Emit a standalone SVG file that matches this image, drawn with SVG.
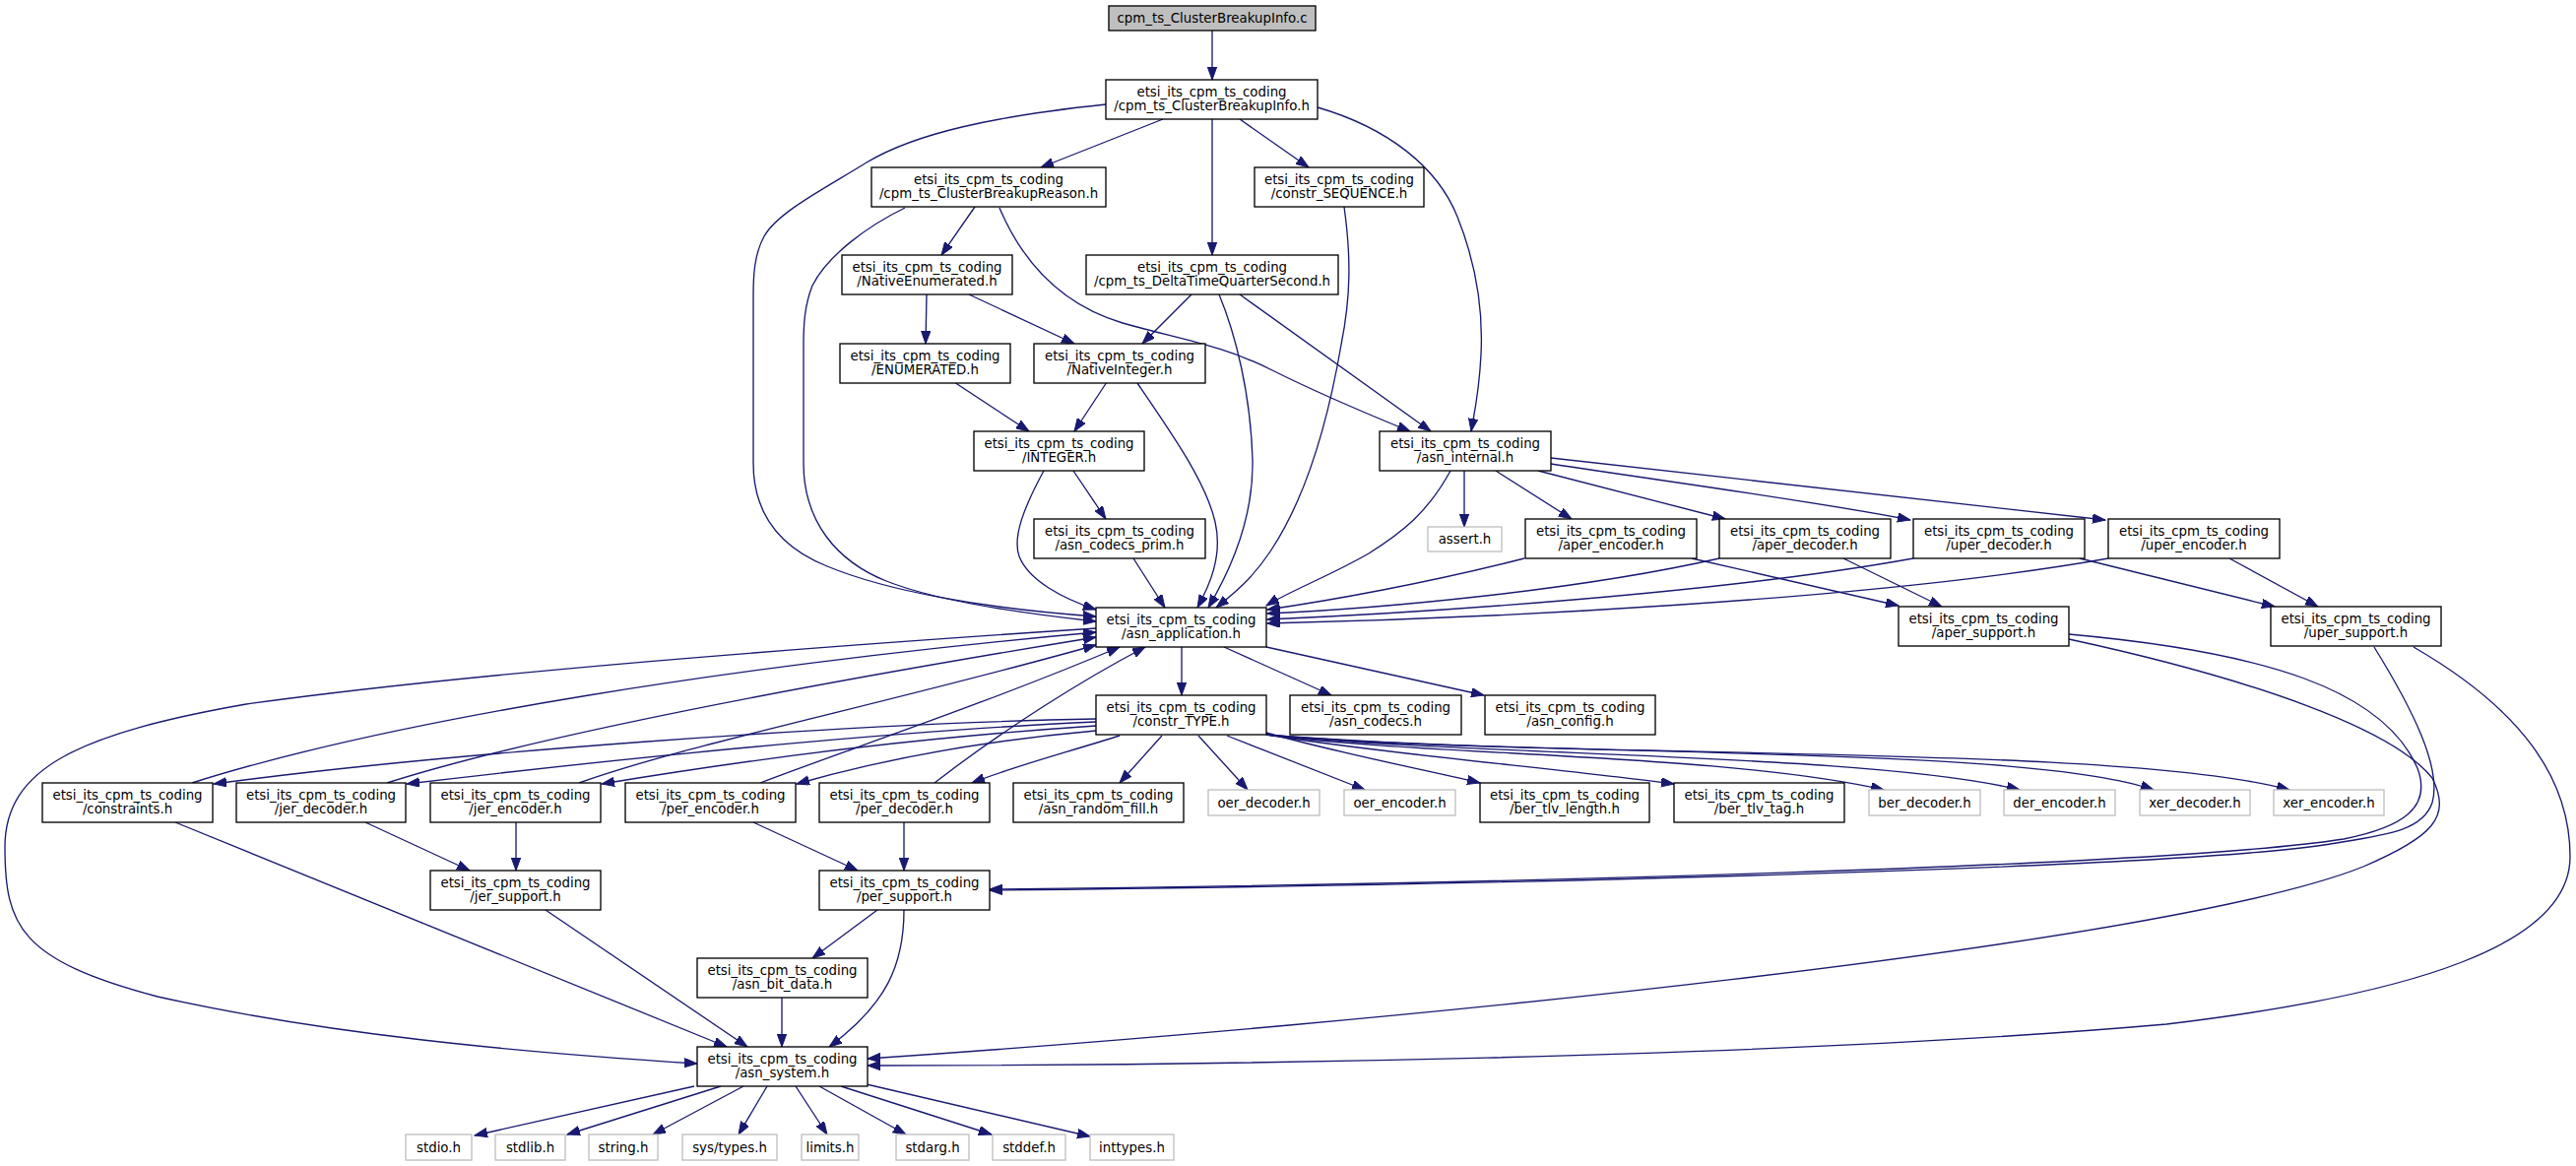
<svg xmlns="http://www.w3.org/2000/svg" width="2616" height="1184" viewBox="0 0 2616 1184">
<style>
.node rect{fill:#fff;stroke:#000;stroke-width:1.33}
.ext rect{fill:#fff;stroke:#bfbfbf;stroke-width:1.33}
.root rect{fill:#bfbfbf;stroke:#000;stroke-width:1.33}
text{font-family:"DejaVu Sans","Liberation Sans",sans-serif;font-size:13.33px;text-anchor:middle;fill:#000}
#edges path{fill:none;stroke:#191970;stroke-width:1.33;marker-end:url(#ah)}
</style>
<defs>
<marker id="ah" markerUnits="userSpaceOnUse" markerWidth="14" markerHeight="10" refX="13" refY="4.7" orient="auto">
<path d="M0,0 L13,4.7 L0,9.4 z" fill="#191970" stroke="#191970" stroke-width="1"/>
</marker>
</defs>
<rect x="0" y="0" width="2616" height="1184" fill="#fff"/>
<g id="edges">
<path d="M1231,31 L1231,81"/>
<path d="M1181,121 L1057,170"/>
<path d="M1231,121 L1231,259"/>
<path d="M1259,121 L1329,170"/>
<path d="M1123,106 C1010,118 930,135 880,165 C840,190 790,215 776,240 C766,258 765,280 765,300 L765,470 C765,520 790,555 840,575 C900,600 1000,618 1113,626"/>
<path d="M1338,109 C1410,130 1460,170 1480,220 C1500,270 1506,320 1504,360 C1502,400 1497,420 1494,438"/>
<path d="M990,210 L956,259"/>
<path d="M919,211 C880,230 840,260 825,290 C817,310 816,330 816,350 L816,470 C816,530 850,570 900,590 C950,610 1030,622 1113,631"/>
<path d="M1015,211 C1040,270 1080,310 1140,328 C1200,345 1240,350 1290,375 C1340,400 1400,425 1432,438"/>
<path d="M1365,210 C1372,260 1372,300 1362,350 C1350,420 1330,500 1290,560 C1270,590 1250,605 1235,617"/>
<path d="M941,299 L940,349"/>
<path d="M984,299 L1091,349"/>
<path d="M1210,299 L1160,349"/>
<path d="M1238,299 C1255,340 1270,400 1272,467 C1273,520 1255,570 1227,617"/>
<path d="M1259,299 L1453,438"/>
<path d="M969,388 L1045,438"/>
<path d="M1124,388 L1091,438"/>
<path d="M1155,389 C1190,440 1225,490 1234,530 C1242,565 1228,595 1216,617"/>
<path d="M1090,478 L1123,527"/>
<path d="M1060,478 C1040,515 1028,545 1035,565 C1045,590 1080,608 1113,619"/>
<path d="M1151,567 L1183,617"/>
<path d="M1473,478 C1450,520 1425,540 1390,562 C1350,585 1310,600 1286,615"/>
<path d="M1487,478 L1487,535"/>
<path d="M1519,478 L1596,527"/>
<path d="M1562,478 L1752,527"/>
<path d="M1575,471 C1700,490 1850,510 1940,528"/>
<path d="M1575,465 C1700,478 1900,500 2138,528"/>
<path d="M1548,567 C1450,592 1350,610 1287,619"/>
<path d="M1746,567 C1600,600 1400,618 1287,623"/>
<path d="M1943,567 C1750,602 1450,622 1287,629"/>
<path d="M2141,567 C1900,610 1500,628 1287,633"/>
<path d="M1718,567 L1928,615"/>
<path d="M1872,567 L1972,616"/>
<path d="M2112,567 L2310,616"/>
<path d="M2264,567 L2354,616"/>
<path d="M1200,657 L1200,706"/>
<path d="M1243,657 L1352,706"/>
<path d="M1286,657 L1507,706"/>
<path d="M1113,638 C900,652 500,680 250,715 C80,745 5,780 5,860 C5,940 20,975 160,1012 C330,1050 520,1068 708,1080"/>
<path d="M1113,730 C850,735 450,765 217,796"/>
<path d="M1113,733 C950,740 700,762 413,796"/>
<path d="M1113,737 C950,748 800,765 611,796"/>
<path d="M1113,742 C1000,752 900,770 809,796"/>
<path d="M1137,747 C1080,765 1030,778 987,795"/>
<path d="M1180,747 L1137,795"/>
<path d="M1217,747 L1267,802"/>
<path d="M1246,747 L1386,802"/>
<path d="M1286,744 C1360,765 1440,780 1503,795"/>
<path d="M1286,746 C1400,765 1580,780 1700,796"/>
<path d="M1286,746 C1450,768 1750,765 1913,802"/>
<path d="M1286,746 C1500,768 1900,765 2051,802"/>
<path d="M1286,746 C1550,770 2050,755 2187,802"/>
<path d="M1286,746 C1600,772 2150,755 2325,802"/>
<path d="M195,795 C400,730 750,675 1113,642"/>
<path d="M393,795 C550,745 850,690 1113,647"/>
<path d="M588,795 C700,755 900,715 1113,655"/>
<path d="M772,795 C850,765 1000,715 1137,657"/>
<path d="M949,795 C1020,740 1100,690 1163,657"/>
<path d="M178,835 L738,1063"/>
<path d="M371,835 L477,884"/>
<path d="M524,835 L524,884"/>
<path d="M765,835 L871,884"/>
<path d="M918,835 L918,884"/>
<path d="M554,924 L759,1063"/>
<path d="M891,924 L825,973"/>
<path d="M918,924 C918,980 900,1020 842,1063"/>
<path d="M794,1013 L794,1063"/>
<path d="M705,1103 L482,1153"/>
<path d="M732,1103 L576,1152"/>
<path d="M755,1103 L663,1152"/>
<path d="M779,1103 L750,1152"/>
<path d="M808,1103 L840,1152"/>
<path d="M832,1103 L920,1152"/>
<path d="M854,1103 L1007,1152"/>
<path d="M880,1101 L1107,1154"/>
<path d="M2101,644 C2300,662 2420,700 2455,780 C2470,820 2440,840 2380,852 C2200,880 1500,898 1005,903"/>
<path d="M2411,657 C2450,720 2480,780 2470,815 C2460,845 2420,848 2360,858 C2200,882 1500,899 1005,904"/>
<path d="M2101,649 C2290,690 2430,740 2470,790 C2490,830 2470,850 2400,880 C2200,960 1400,1040 881,1075"/>
<path d="M2451,657 C2560,720 2610,790 2610,870 C2610,960 2450,1010 2200,1040 C1800,1075 1200,1082 881,1082"/>
</g>
<g id="n-cfile" class="root"><rect x="1126" y="6" width="210" height="25"/><text x="1231" y="23">cpm_ts_ClusterBreakupInfo.c</text></g>
<g id="n-info" class="node"><rect x="1123" y="81" width="215" height="40"/><text x="1230.5" y="97.5">etsi_its_cpm_ts_coding</text><text x="1230.5" y="112">/cpm_ts_ClusterBreakupInfo.h</text></g>
<g id="n-reason" class="node"><rect x="885" y="170" width="238" height="40"/><text x="1004" y="186.5">etsi_its_cpm_ts_coding</text><text x="1004" y="201">/cpm_ts_ClusterBreakupReason.h</text></g>
<g id="n-seq" class="node"><rect x="1274" y="170" width="172" height="40"/><text x="1360" y="186.5">etsi_its_cpm_ts_coding</text><text x="1360" y="201">/constr_SEQUENCE.h</text></g>
<g id="n-natenum" class="node"><rect x="855" y="259" width="173" height="40"/><text x="941.5" y="275.5">etsi_its_cpm_ts_coding</text><text x="941.5" y="290">/NativeEnumerated.h</text></g>
<g id="n-delta" class="node"><rect x="1103" y="259" width="256" height="40"/><text x="1231" y="275.5">etsi_its_cpm_ts_coding</text><text x="1231" y="290">/cpm_ts_DeltaTimeQuarterSecond.h</text></g>
<g id="n-enum" class="node"><rect x="853" y="349" width="173" height="40"/><text x="939.5" y="365.5">etsi_its_cpm_ts_coding</text><text x="939.5" y="380">/ENUMERATED.h</text></g>
<g id="n-natint" class="node"><rect x="1050" y="349" width="174" height="40"/><text x="1137" y="365.5">etsi_its_cpm_ts_coding</text><text x="1137" y="380">/NativeInteger.h</text></g>
<g id="n-integer" class="node"><rect x="989" y="438" width="173" height="40"/><text x="1075.5" y="454.5">etsi_its_cpm_ts_coding</text><text x="1075.5" y="469">/INTEGER.h</text></g>
<g id="n-internal" class="node"><rect x="1401" y="438" width="174" height="40"/><text x="1488" y="454.5">etsi_its_cpm_ts_coding</text><text x="1488" y="469">/asn_internal.h</text></g>
<g id="n-prim" class="node"><rect x="1050" y="527" width="174" height="40"/><text x="1137" y="543.5">etsi_its_cpm_ts_coding</text><text x="1137" y="558">/asn_codecs_prim.h</text></g>
<g id="n-assert" class="ext"><rect x="1450" y="535" width="75" height="25"/><text x="1487.5" y="552">assert.h</text></g>
<g id="n-aperenc" class="node"><rect x="1549" y="527" width="174" height="40"/><text x="1636" y="543.5">etsi_its_cpm_ts_coding</text><text x="1636" y="558">/aper_encoder.h</text></g>
<g id="n-aperdec" class="node"><rect x="1746" y="527" width="174" height="40"/><text x="1833" y="543.5">etsi_its_cpm_ts_coding</text><text x="1833" y="558">/aper_decoder.h</text></g>
<g id="n-uperdec" class="node"><rect x="1943" y="527" width="174" height="40"/><text x="2030" y="543.5">etsi_its_cpm_ts_coding</text><text x="2030" y="558">/uper_decoder.h</text></g>
<g id="n-uperenc" class="node"><rect x="2141" y="527" width="174" height="40"/><text x="2228" y="543.5">etsi_its_cpm_ts_coding</text><text x="2228" y="558">/uper_encoder.h</text></g>
<g id="n-app" class="node"><rect x="1113" y="617" width="173" height="40"/><text x="1199.5" y="633.5">etsi_its_cpm_ts_coding</text><text x="1199.5" y="648">/asn_application.h</text></g>
<g id="n-apersup" class="node"><rect x="1928" y="616" width="173" height="40"/><text x="2014.5" y="632.5">etsi_its_cpm_ts_coding</text><text x="2014.5" y="647">/aper_support.h</text></g>
<g id="n-upersup" class="node"><rect x="2306" y="616" width="173" height="40"/><text x="2392.5" y="632.5">etsi_its_cpm_ts_coding</text><text x="2392.5" y="647">/uper_support.h</text></g>
<g id="n-type" class="node"><rect x="1113" y="706" width="173" height="40"/><text x="1199.5" y="722.5">etsi_its_cpm_ts_coding</text><text x="1199.5" y="737">/constr_TYPE.h</text></g>
<g id="n-codecs" class="node"><rect x="1310" y="706" width="174" height="40"/><text x="1397" y="722.5">etsi_its_cpm_ts_coding</text><text x="1397" y="737">/asn_codecs.h</text></g>
<g id="n-config" class="node"><rect x="1508" y="706" width="173" height="40"/><text x="1594.5" y="722.5">etsi_its_cpm_ts_coding</text><text x="1594.5" y="737">/asn_config.h</text></g>
<g id="n-constraints" class="node"><rect x="43" y="795" width="173" height="40"/><text x="129.5" y="811.5">etsi_its_cpm_ts_coding</text><text x="129.5" y="826">/constraints.h</text></g>
<g id="n-jerdec" class="node"><rect x="240" y="795" width="172" height="40"/><text x="326" y="811.5">etsi_its_cpm_ts_coding</text><text x="326" y="826">/jer_decoder.h</text></g>
<g id="n-jerenc" class="node"><rect x="437" y="795" width="173" height="40"/><text x="523.5" y="811.5">etsi_its_cpm_ts_coding</text><text x="523.5" y="826">/jer_encoder.h</text></g>
<g id="n-perenc" class="node"><rect x="635" y="795" width="173" height="40"/><text x="721.5" y="811.5">etsi_its_cpm_ts_coding</text><text x="721.5" y="826">/per_encoder.h</text></g>
<g id="n-perdec" class="node"><rect x="832" y="795" width="173" height="40"/><text x="918.5" y="811.5">etsi_its_cpm_ts_coding</text><text x="918.5" y="826">/per_decoder.h</text></g>
<g id="n-random" class="node"><rect x="1029" y="795" width="173" height="40"/><text x="1115.5" y="811.5">etsi_its_cpm_ts_coding</text><text x="1115.5" y="826">/asn_random_fill.h</text></g>
<g id="n-oerdec" class="ext"><rect x="1227" y="802" width="113" height="26"/><text x="1283.5" y="819.5">oer_decoder.h</text></g>
<g id="n-oerenc" class="ext"><rect x="1365" y="802" width="113" height="26"/><text x="1421.5" y="819.5">oer_encoder.h</text></g>
<g id="n-bertlvlen" class="node"><rect x="1503" y="795" width="172" height="40"/><text x="1589" y="811.5">etsi_its_cpm_ts_coding</text><text x="1589" y="826">/ber_tlv_length.h</text></g>
<g id="n-bertlvtag" class="node"><rect x="1700" y="795" width="173" height="40"/><text x="1786.5" y="811.5">etsi_its_cpm_ts_coding</text><text x="1786.5" y="826">/ber_tlv_tag.h</text></g>
<g id="n-berdec" class="ext"><rect x="1898" y="802" width="113" height="26"/><text x="1954.5" y="819.5">ber_decoder.h</text></g>
<g id="n-derenc" class="ext"><rect x="2035" y="802" width="113" height="26"/><text x="2091.5" y="819.5">der_encoder.h</text></g>
<g id="n-xerdec" class="ext"><rect x="2173" y="802" width="112" height="26"/><text x="2229" y="819.5">xer_decoder.h</text></g>
<g id="n-xerenc" class="ext"><rect x="2309" y="802" width="112" height="26"/><text x="2365" y="819.5">xer_encoder.h</text></g>
<g id="n-jersup" class="node"><rect x="437" y="884" width="173" height="40"/><text x="523.5" y="900.5">etsi_its_cpm_ts_coding</text><text x="523.5" y="915">/jer_support.h</text></g>
<g id="n-persup" class="node"><rect x="832" y="884" width="173" height="40"/><text x="918.5" y="900.5">etsi_its_cpm_ts_coding</text><text x="918.5" y="915">/per_support.h</text></g>
<g id="n-bitdata" class="node"><rect x="708" y="973" width="173" height="40"/><text x="794.5" y="989.5">etsi_its_cpm_ts_coding</text><text x="794.5" y="1004">/asn_bit_data.h</text></g>
<g id="n-system" class="node"><rect x="708" y="1063" width="173" height="40"/><text x="794.5" y="1079.5">etsi_its_cpm_ts_coding</text><text x="794.5" y="1094">/asn_system.h</text></g>
<g id="n-stdio" class="ext"><rect x="412" y="1152" width="67" height="26"/><text x="445.5" y="1169.5">stdio.h</text></g>
<g id="n-stdlib" class="ext"><rect x="503" y="1152" width="71" height="26"/><text x="538.5" y="1169.5">stdlib.h</text></g>
<g id="n-string" class="ext"><rect x="598" y="1152" width="70" height="26"/><text x="633" y="1169.5">string.h</text></g>
<g id="n-systypes" class="ext"><rect x="693" y="1152" width="96" height="26"/><text x="741" y="1169.5">sys/types.h</text></g>
<g id="n-limits" class="ext"><rect x="814" y="1152" width="58" height="26"/><text x="843" y="1169.5">limits.h</text></g>
<g id="n-stdarg" class="ext"><rect x="910" y="1152" width="74" height="26"/><text x="947" y="1169.5">stdarg.h</text></g>
<g id="n-stddef" class="ext"><rect x="1008" y="1152" width="74" height="26"/><text x="1045" y="1169.5">stddef.h</text></g>
<g id="n-inttypes" class="ext"><rect x="1107" y="1152" width="85" height="26"/><text x="1149.5" y="1169.5">inttypes.h</text></g>
</svg>
